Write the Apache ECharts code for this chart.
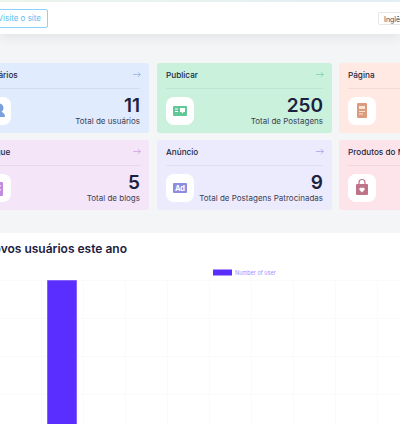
<!DOCTYPE html>
<html lang="pt">
<head>
<meta charset="utf-8">
<title>Painel</title>
<script src="https://cdn.jsdelivr.net/npm/echarts@6/dist/echarts.min.js"></script>
<style>
html,body{margin:0;padding:0;width:400px;height:424px;overflow:hidden;background:#f4f5f7;font-family:Inter,"Noto Sans",sans-serif;color:#1c2140}
.abs{position:absolute}
#strip{left:0;top:0;width:400px;height:2px;background:linear-gradient(90deg,#f1f9f0,#e6f3f9)}
#head{left:0;top:2px;width:400px;height:32px;background:#fff;box-shadow:0 3px 12px rgba(40,40,60,.09)}
#visit{left:-30px;top:9px;width:76px;height:17px;border:1.4px solid #8ad2fa;border-radius:2px;color:#5cbcf2;font-size:8px;line-height:17px}
#visit span{position:absolute;right:6px;top:0;white-space:nowrap}
#lang{left:378px;top:12px;width:60px;height:13px;border:1px solid #e6e7ea;border-radius:2px;font-size:7px;line-height:13px;color:#444a5c;padding-left:5px;box-sizing:border-box}
.card{position:absolute;width:175px;height:70px;border-radius:3px}
.card .t{position:absolute;left:9px;top:6px;font-size:8.2px;line-height:12px;font-weight:500;white-space:nowrap;color:#24283f}
.card .d{position:absolute;left:9px;right:9px;top:25px;height:1px;background:rgba(60,60,120,.07)}
.card .a{position:absolute;left:159px;top:8px}
.card .i{position:absolute;left:9px;top:34px;width:28px;height:28px;border-radius:8px;background:#fff}
.card .i svg{position:absolute;left:0;top:0}
.card .n{position:absolute;right:9px;top:34px;font-size:19px;line-height:18px;font-weight:600;color:#1c2140}
.card .l{position:absolute;right:9px;top:52.5px;font-size:8px;line-height:10px;color:#3c4155;white-space:nowrap}
#panel{left:0;top:233px;width:400px;height:191px;background:#fff}
#title{left:-24px;top:241px;font-size:12px;line-height:16px;font-weight:600;color:#1c2140;white-space:nowrap;width:151px;text-align:right}
#chart{left:-60px;top:233px;width:570px;height:290px}
</style>
</head>
<body>
<div class="abs" id="strip"></div>
<div class="abs" id="head"></div>
<div class="abs" id="visit"><span>Visite o site</span></div>
<div class="abs" id="lang">Inglês</div>
<div id="cards"></div>
<div class="abs" id="panel"></div>
<div class="abs" id="chart"></div>
<div class="abs" id="title">Novos usuários este ano</div>
<script>
// Cards
var cardTitles = ['Usuários', 'Publicar', 'Página', 'Blogue', 'Anúncio', 'Produtos do Mercado'];
var cardNumbers = ['11', '250', '', '5', '9', ''];
var cardLabels = ['Total de usuários', 'Total de Postagens', '', 'Total de blogs', 'Total de Postagens Patrocinadas', ''];
var cardFills = ['#e0ebfd', '#c9f1dc', '#ffe9e2', '#f4e5f8', '#ecebfd', '#fde4ea'];
var cardAccents = ['#7aa0e0', '#62c796', '#dc9a7e', '#c48ae0', '#8d8de0', '#bf7389'];
var cardLefts = [-26, 157, 339, -26, 157, 339];
var cardTops = [63, 63, 63, 140, 140, 140];

function iconSvg(k, c) {
  var s = '';
  if (k === 0) s = '<circle cx="16" cy="11" r="4.5" fill="' + c + '"/><path d="M8 20c0-4 3-6 7-6s7 2 7 6z" fill="' + c + '"/>';
  if (k === 1) s = '<rect x="7" y="9" width="14" height="10" rx="1" fill="' + c + '"/><rect x="9" y="11.5" width="3" height="1" fill="#fff"/><rect x="9" y="14" width="3" height="1" fill="#fff"/><path d="M14 11h5v4h-1.5l-1 1.5-1-1.5H14z" fill="#fff"/>';
  if (k === 2) s = '<rect x="9" y="6" width="10" height="15" rx="1" fill="' + c + '"/><rect x="11" y="9" width="6" height="3" fill="#fbe3d8"/><rect x="11" y="14" width="6" height="1" fill="#fbe3d8"/><rect x="11" y="16.5" width="4" height="1" fill="#fbe3d8"/>';
  if (k === 3) s = '<rect x="8" y="8" width="12" height="14" rx="1" fill="' + c + '"/><rect x="15" y="11" width="3" height="1.5" fill="#eed8f5"/><rect x="15" y="15" width="3" height="1.5" fill="#eed8f5"/>';
  if (k === 4) s = '<rect x="7" y="9" width="14" height="10" rx="1" fill="' + c + '"/><text x="14" y="17" font-size="7.5" font-weight="700" fill="#fff" text-anchor="middle">Ad</text>';
  if (k === 5) s = '<rect x="8" y="10" width="12" height="11" rx="1" fill="' + c + '"/><path d="M11 11V8.5a3 3 0 0 1 6 0V11" fill="none" stroke="' + c + '" stroke-width="1.2"/><path d="M14 18.5l-2.4-2.4a1.5 1.5 0 0 1 2.4-1.8 1.5 1.5 0 0 1 2.4 1.8z" fill="#fff"/>';
  return '<svg width="28" height="28" viewBox="0 0 28 28">' + s + '</svg>';
}
var html = '';
cardTitles.forEach(function (t, k) {
  html += '<div class="card" style="left:' + cardLefts[k] + 'px;top:' + cardTops[k] + 'px;background:' + cardFills[k] + '">' +
    '<div class="t">' + t + '</div><div class="d"></div>' +
    '<svg class="a" width="8" height="7" viewBox="0 0 8 7"><path d="M0 3.5h7.3M4.8 1l2.6 2.5L4.8 6" fill="none" stroke="' + cardAccents[k] + '" stroke-width=".6"/></svg>' +
    '<div class="i">' + iconSvg(k, cardAccents[k]) + '</div>' +
    '<div class="n">' + cardNumbers[k] + '</div><div class="l">' + cardLabels[k] + '</div></div>';
});
document.getElementById('cards').innerHTML = html;

// Chart
var months = ['Jan', 'Feb', 'Mar', 'Apr', 'May', 'Jun', 'Jul', 'Aug', 'Sep', 'Oct', 'Nov', 'Dec'];
var seriesName = 'Number of user';
var userCounts = [0, 10, 0, 0, 0, 0, 0, 0, 0, 0, 0, 0];

var chart = echarts.init(document.getElementById('chart'), null, { renderer: 'svg' });
chart.setOption({
  animation: false,
  legend: {
    left: 273, top: 36.5, itemWidth: 19, itemHeight: 6, padding: 0,
    icon: 'rect',
    itemStyle: { borderWidth: 0 },
    textStyle: { color: '#a58cff', fontSize: 5.5, fontFamily: 'Inter', padding: [0, 0, 0, -2] },
    data: [seriesName]
  },
  grid: { left: 59, top: 47, width: 504, height: 190, outerBoundsMode: 'none' },
  xAxis: {
    type: 'category', data: months,
    axisTick: { show: false },
    axisLine: { lineStyle: { color: '#fafafa' } },
    splitLine: { show: true, lineStyle: { color: '#fafafa', width: 1 } }
  },
  yAxis: {
    type: 'value', min: 0, max: 10, interval: 2,
    axisLine: { show: false }, axisTick: { show: false },
    splitLine: { show: true, lineStyle: { color: '#fafafa', width: 1 } }
  },
  series: [{
    name: seriesName, type: 'bar', data: userCounts, barWidth: 30,
    itemStyle: { color: '#5a2eff', borderColor: '#8460ff', borderWidth: 1 }
  }]
});
</script>
</body>
</html>
